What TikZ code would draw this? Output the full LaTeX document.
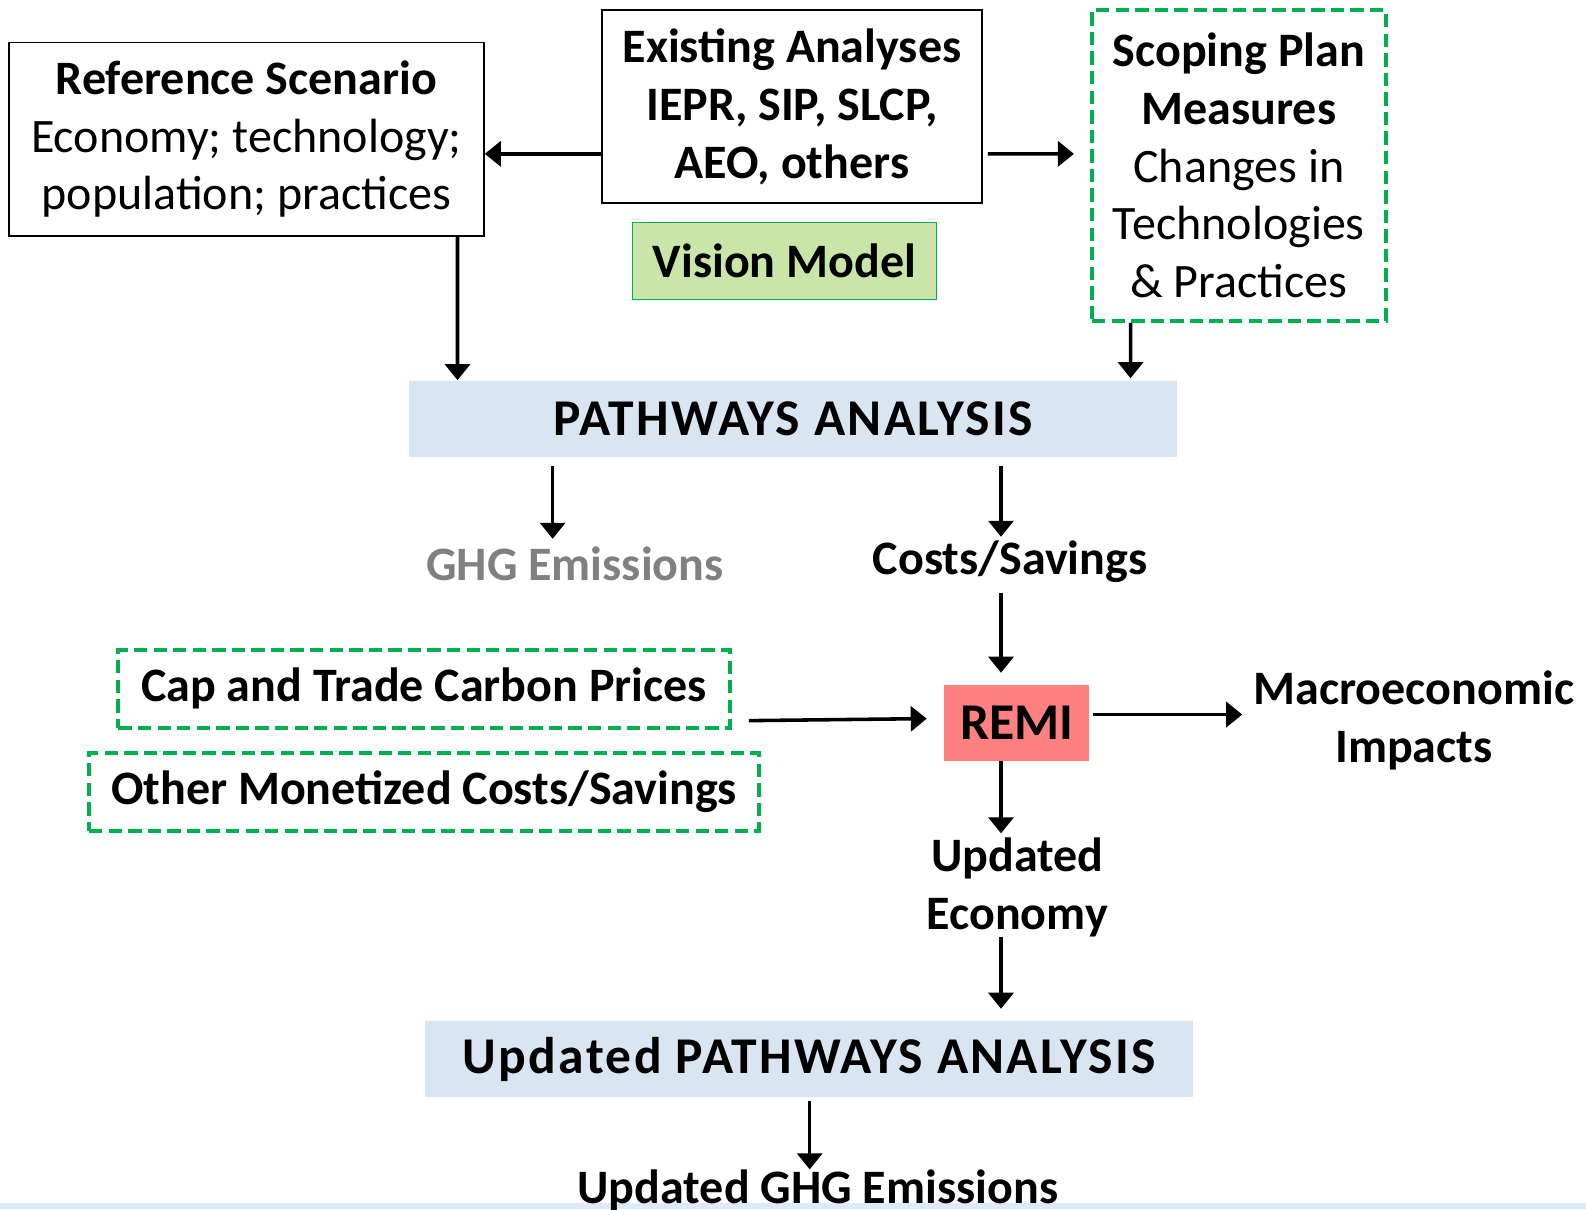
\documentclass[tikz,border=0pt]{standalone}
\usepackage{fontspec}
\setmainfont{Carlito}
\newfontfamily\spaced[LetterSpace=4.5]{Carlito}
\usetikzlibrary{positioning,arrows.meta,calc}
\usepackage{xcolor}
\definecolor{dashgreen}{HTML}{00B050}
\definecolor{visionfill}{HTML}{C9E6A8}
\definecolor{pathfill}{HTML}{DAE5F2}
\definecolor{remifill}{HTML}{FF8080}
\definecolor{ghggray}{HTML}{808080}
\definecolor{stripblue}{HTML}{DEE9F9}

\tikzset{
  plainbox/.style={draw, line width=1.1pt, align=center, inner sep=0pt},
  dashbox/.style={draw=dashgreen, line width=2.2pt, dash pattern=on 7.5pt off 3.5pt, align=center, inner sep=0pt},
  fillbox/.style={fill=#1, align=center, inner sep=0pt},
  lbl/.style={align=center, inner sep=1pt, font=\fontsize{27}{32.4}\selectfont\bfseries},
  boldtext/.style={font=\fontsize{27}{32.4}\selectfont\bfseries},
  bigcaps/.style={font=\fontsize{29}{34}\selectfont\spaced\bfseries},
}

\begin{document}
\begin{tikzpicture}[x=0.2mm, y=-0.2mm, >={Triangle[length=9pt,width=14pt]},
    every node/.style={font=\fontsize{27}{32.4}\selectfont}]
        \useasboundingbox (0,0) rectangle (1567,1194.6);
        \fill[stripblue] (0,1188.6) rectangle (1567,1194.6);

        % Top row
        \node [plainbox, minimum width=93.8mm, minimum height=38.2mm] (ref) at (243.5,137.5)
            {\textbf{Reference Scenario}\\Economy; technology;\\population; practices};
        \node [plainbox, minimum width=75mm, minimum height=38.2mm] (exist) at (782.5,105.5)
            {\bfseries Existing Analyses\\\bfseries IEPR, SIP, SLCP,\\\bfseries AEO, others};
        \node [fillbox=visionfill, draw=dashgreen, line width=0.8pt, minimum width=60mm, minimum height=15.2mm,
            below=3.4mm of exist, xshift=-1.5mm, boldtext] (vision) {Vision Model};
        \node [dashbox, minimum width=58mm, minimum height=61.4mm] (scope) at (1224,163.5)
            {\textbf{Scoping Plan}\\\textbf{Measures}\\Changes in\\Technologies\\\& Practices};

        % Pathways
        \node [fillbox=pathfill, minimum width=151.8mm, minimum height=15.2mm, bigcaps] (path) at (783.5,414) {PATHWAYS ANALYSIS};
        \node [lbl, text=ghggray] (ghg) at (568,557) {GHG Emissions};
        \node [lbl] (costs) at (998,555) {Costs/Savings};

        % REMI row
        \node [dashbox, minimum width=120.8mm, minimum height=15.4mm, boldtext] (cap) at (419,680.5) {Cap and Trade Carbon Prices};
        \node [dashbox, minimum width=132.4mm, minimum height=15.4mm, below=4.2mm of cap, boldtext] (other) {Other Monetized Costs/Savings};
        \node [fillbox=remifill, minimum width=28.6mm, minimum height=15mm,
            font=\fontsize{29}{34}\selectfont\bfseries] (remi) at (1004.5,714.5) {REMI};
        \node [lbl] (macro) at (1397,712) {Macroeconomic\\Impacts};
        \node [lbl] (economy) at (1005,877) {Updated\\Economy};

        % Bottom
        \node [fillbox=pathfill, minimum width=151.8mm, minimum height=15mm, bigcaps] (upath) at (799.5,1046.5) {Updated PATHWAYS ANALYSIS};
        \node [lbl] (ughg) at (808,1176) {Updated GHG Emissions};

        % Arrows
        \begin{scope}[line width=2pt]
        \draw[->] ($(exist.west)+(0,46.5)$) -- ($(ref.east)+(0,14.5)$);
        \draw[->] ($(exist.east)+(5,46.5)$) -- ($(scope.west)+(-16,-11.5)$);
        \draw[->] ($(ref.south)+(208.5,0)$) -- ($(path.north)+(-331.5,0)$);
        \draw[->] ($(scope.south)+(-107,0)$) -- ($(path.north)+(333.5,-2)$);
        \draw[->] ($(path.south)+(-237.5,8)$) -- ($(path.south)+(-237.5,80)$);
        \draw[->] ($(path.south)+(205.5,8)$) -- ($(path.south)+(205.5,78)$);
        \draw[->] ($(costs.south)+(-9,8)$) -- ($(remi.north)+(-15.5,-12)$);
        \draw[->] ($(cap.east)+(17,31.5)$) -- ($(remi.west)+(-17,-4.5)$);
        \draw[->] ($(remi.east)+(4,-8.5)$) -- ($(remi.east)+(151,-8.5)$);
        \draw[->] ($(remi.south)+(-15.5,0)$) -- ($(remi.south)+(-15.5,71)$);
        \draw[->] ($(economy.south)+(-16,-2)$) -- ($(upath.north)+(189.5,-12)$);
        \draw[->] ($(upath.south)+(0.5,3)$) -- ($(upath.south)+(0.5,71)$);
        \end{scope}
    \end{tikzpicture}
\end{document}
